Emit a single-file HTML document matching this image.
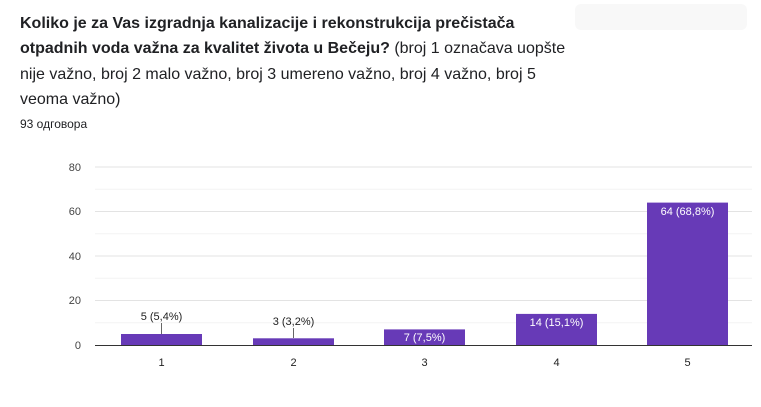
<!DOCTYPE html>
<html><head><meta charset="utf-8"><style>
body{margin:0;width:761px;height:407px;background:#fff;font-family:"Liberation Sans",Arial,sans-serif;overflow:hidden;position:relative}
.t{position:absolute;left:20px;top:11px;width:560px;font-size:16px;line-height:25.3px;color:#202124}
.t b{font-weight:bold}
.n{position:absolute;left:20px;top:117px;font-size:12px;color:#202124}
.btn{position:absolute;left:575px;top:4px;width:172px;height:26px;border-radius:6px;background:#f8f8f8}
svg{position:absolute;left:0;top:0}
</style></head><body>
<div class="btn"></div>
<div class="t"><b>Koliko je za Vas izgradnja kanalizacije i rekonstrukcija prečistača otpadnih voda važna za kvalitet života u Bečeju?</b> (broj 1 označava uopšte nije važno, broj 2 malo važno, broj 3 umereno važno, broj 4 važno, broj 5 veoma važno)</div>
<div class="n">93 одговора</div>
<svg width="761" height="407" font-family="Liberation Sans, Arial, sans-serif" font-size="11">
<g stroke="#f3f3f3"><line x1="95" x2="752" y1="189.3" y2="189.3"/><line x1="95" x2="752" y1="233.8" y2="233.8"/><line x1="95" x2="752" y1="278.3" y2="278.3"/><line x1="95" x2="752" y1="322.8" y2="322.8"/></g>
<g stroke="#e3e3e3"><line x1="95" x2="752" y1="167" y2="167"/><line x1="95" x2="752" y1="211.5" y2="211.5"/><line x1="95" x2="752" y1="256" y2="256"/><line x1="95" x2="752" y1="300.5" y2="300.5"/></g>
<g fill="#444" text-anchor="end"><text x="81" y="171">80</text><text x="81" y="215">60</text><text x="81" y="260">40</text><text x="81" y="304">20</text><text x="81" y="349">0</text></g>
<g fill="#673ab7"><rect x="121" y="334" width="81" height="11"/><rect x="253" y="338.3" width="81" height="6.7"/><rect x="384" y="329.4" width="81" height="15.6"/><rect x="516" y="313.9" width="81" height="31.1"/><rect x="647" y="202.6" width="81" height="142.4"/></g>
<line x1="95" x2="752" y1="345.5" y2="345.5" stroke="#333"/>
<g stroke="#666"><line x1="161.5" x2="161.5" y1="323" y2="334"/><line x1="293.5" x2="293.5" y1="328" y2="338"/></g>
<g fill="#222" text-anchor="middle"><text x="161.5" y="320">5 (5,4%)</text><text x="293.5" y="325">3 (3,2%)</text></g>
<g fill="#fff" text-anchor="middle"><text x="424.5" y="341">7 (7,5%)</text><text x="556.5" y="326">14 (15,1%)</text><text x="687.5" y="215">64 (68,8%)</text></g>
<g fill="#222" text-anchor="middle"><text x="161.5" y="366">1</text><text x="293.5" y="366">2</text><text x="424.5" y="366">3</text><text x="556.5" y="366">4</text><text x="687.5" y="366">5</text></g>
</svg>
</body></html>
